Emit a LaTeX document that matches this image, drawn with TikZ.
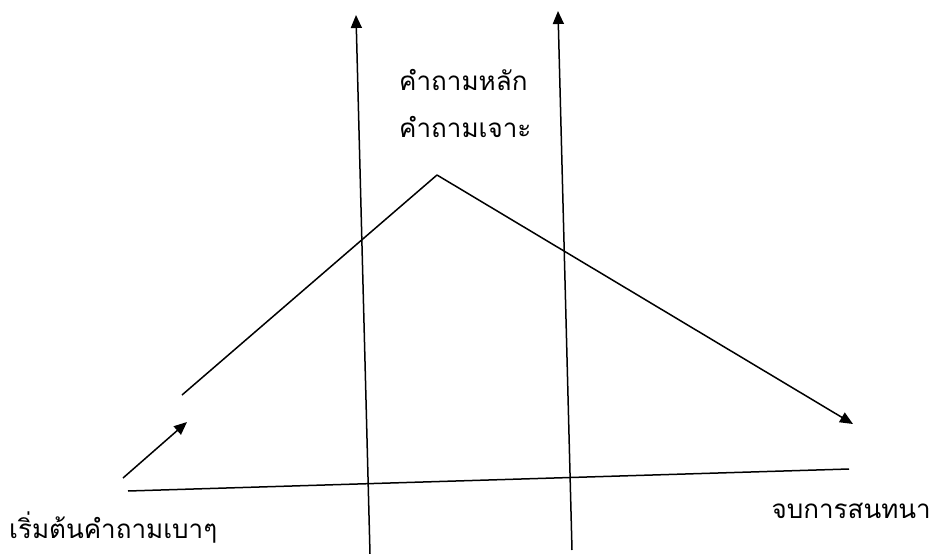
\documentclass[tikz,border=0pt]{standalone}
\usepackage{fontspec}
\newfontfamily\thaifont[Script=Thai]{Loma}
\usetikzlibrary{arrows.meta}
\begin{document}
\begin{tikzpicture}[x=1pt,y=-1pt,
  ln/.style={line width=1.5pt,black},
  arr/.style={ln,-{Triangle[length=13pt,width=11pt]}},
  lbl/.style={font=\thaifont\fontsize{26}{30}\selectfont,inner sep=0pt}]
\useasboundingbox (0,0) rectangle (935,554);
% vertical arrows
\coordinate (v1b) at (370,554);
\coordinate (v1t) at (356,15);
\coordinate (v2b) at (572,550);
\coordinate (v2t) at (558,11);
\draw[arr] (v1b) -- (v1t);
\draw[arr] (v2b) -- (v2t);
% baseline
\coordinate (bl) at (128,491);
\coordinate (br) at (849,469);
\draw[ln] (bl) -- (br);
% small arrow
\coordinate (sa) at (123,478);
\coordinate (sb) at (187,422);
\draw[arr] (sa) -- (sb);
% peak lines
\coordinate (ls) at (182,395);
\coordinate (pk) at (437,175);
\coordinate (re) at (853,424);
\draw[ln] (ls) -- (pk);
\draw[arr] (pk) -- (re);
% labels
\node[lbl,anchor=west] (t1) at (399,80) {คำถามหลัก};
\node[lbl,anchor=west] (t2) at (399,127) {คำถามเจาะ};
\node[lbl,anchor=west] (t3) at (9,528) {เริ่มต้นคำถามเบาๆ};
\node[lbl,anchor=east] (t4) at (931,511) {จบการสนทนา};
\end{tikzpicture}
\end{document}
